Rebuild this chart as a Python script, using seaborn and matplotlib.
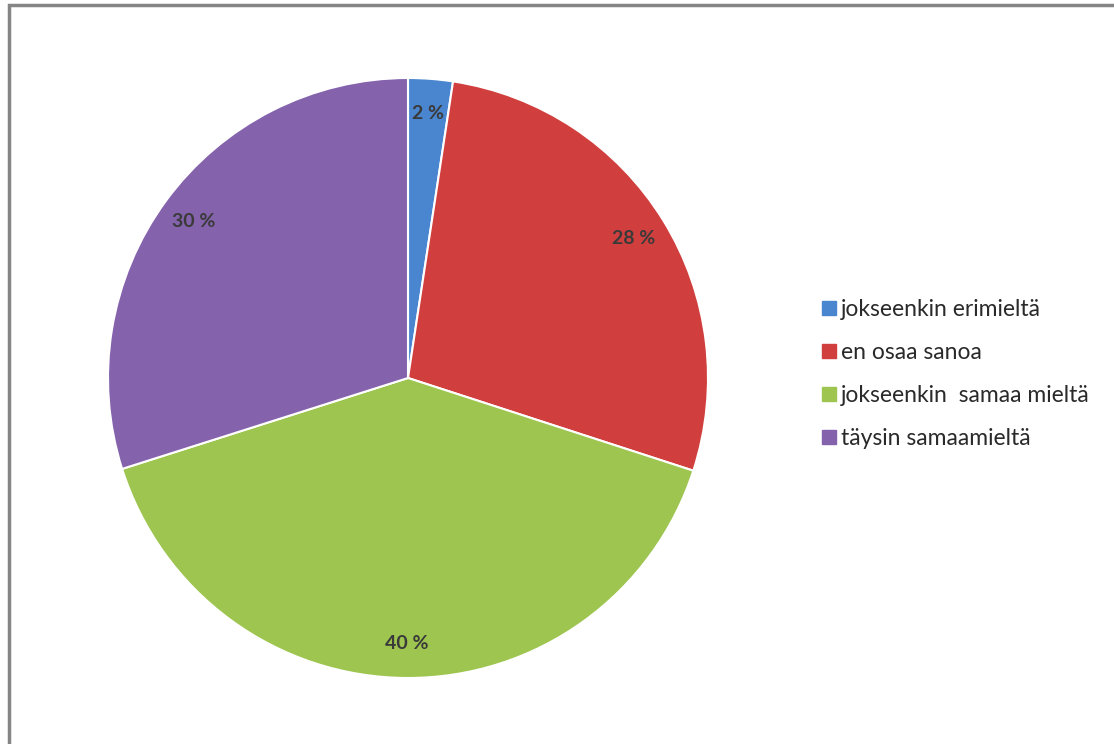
import matplotlib
matplotlib.use("Agg")
import matplotlib.pyplot as plt
import seaborn as sns
from matplotlib.patches import Rectangle
from matplotlib.lines import Line2D

categories = ["jokseenkin erimieltä", "en osaa sanoa", "jokseenkin  samaa mieltä", "täysin samaamieltä"]
values = [2.4, 27.6, 40.1, 29.9]
colors = ["#4A86D0", "#D03F3D", "#9DC54F", "#8462AC"]

sns.set_theme(style="white")
plt.rcParams['font.family'] = ['Lato', 'DejaVu Sans']

fig = plt.figure(figsize=(11.14, 7.44), dpi=100)
fig.patch.set_facecolor("white")

ax = fig.add_axes([108/1114, 66/744, 600/1114, 600/744])
wedges, texts, autotexts = ax.pie(
    values, colors=colors, startangle=90, counterclock=False,
    autopct=lambda p: f"{p:.0f} %", pctdistance=0.885,
    wedgeprops=dict(edgecolor="white", linewidth=1.5),
    textprops=dict(color="#3a3a3a", fontsize=14, fontweight="bold"),
)
ax.set_aspect("equal")
ax.set_xlim(-1.0, 1.0)
ax.set_ylim(-1.0, 1.0)
ax.axis("off")

handles = [Line2D([0], [0], marker="s", linestyle="none", markersize=10,
                  markerfacecolor=c, markeredgecolor=c) for c in colors]
leg = fig.legend(handles, categories, loc="center left",
                 bbox_to_anchor=(810/1114, 1 - 374/744), frameon=False,
                 fontsize=16.5, labelspacing=0.97, handletextpad=0.05,
                 handlelength=0.9, borderaxespad=0)
for t in leg.get_texts():
    t.set_color("#2a2a2a")

# outer frame (top and left visible)
fig.patches.append(Rectangle((9/1114, -0.05), 1.1, 1 - 5/744 + 0.05,
                             transform=fig.transFigure, fill=False,
                             edgecolor="#858585", linewidth=2.5))

fig.savefig("out.png", dpi=100, facecolor="white")
